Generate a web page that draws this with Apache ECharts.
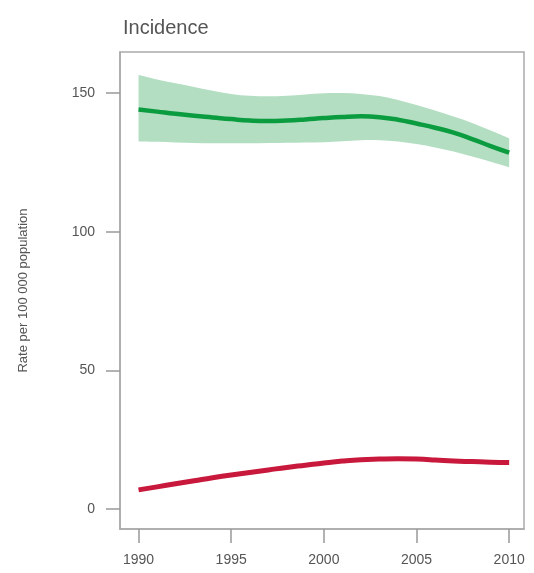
<!DOCTYPE html>
<html><head><meta charset="utf-8">
<script src="https://cdn.jsdelivr.net/npm/echarts@6/dist/echarts.min.js"></script>
<style>html,body{margin:0;padding:0;background:#fff}#c{width:534px;height:573px}</style>
</head><body><div id="c"></div>
<script>
const years = [1990,1991,1992,1993,1994,1995,1996,1997,1998,1999,2000,2001,2002,2003,2004,2005,2006,2007,2008,2009,2010];
const greenMid = [144.1,143.3,142.5,141.8,141.2,140.6,140.1,139.9,140.1,140.5,141.0,141.4,141.6,141.3,140.4,139.0,137.5,135.7,133.4,130.9,128.5];
const greenLow = [132.5,132.4,132.2,132.0,131.9,131.9,131.9,132.0,132.1,132.2,132.3,132.6,133.0,133.0,132.5,131.6,130.4,128.9,127.1,125.2,123.2];
const greenHigh = [156.5,154.9,153.5,152.2,150.8,149.7,149.0,148.8,149.0,149.5,149.9,150.0,149.7,148.9,147.5,145.7,143.7,141.5,139.2,136.5,133.7];
const redMid = [6.9,8.0,9.1,10.2,11.3,12.3,13.2,14.1,15.0,15.8,16.6,17.3,17.8,18.0,18.1,18.0,17.7,17.3,17.1,16.9,16.8];
const xTicks = [1990,1995,2000,2005,2010];
const yTicks = [0,50,100,150];

const pair = a => years.map((y,i)=>[y,a[i]]);
const bandData = years.map((y,i)=>[y, greenLow[i], greenHigh[i]]);
const font = 'Liberation Sans, Arial, sans-serif';

// smooth path segment through points (Catmull-Rom -> cubic Bezier)
function curve(pts, first) {
  let d = first ? `M${pts[0][0]},${pts[0][1]}` : `L${pts[0][0]},${pts[0][1]}`;
  for (let i = 0; i < pts.length - 1; i++) {
    const p0 = pts[Math.max(i-1,0)], p1 = pts[i], p2 = pts[i+1], p3 = pts[Math.min(i+2,pts.length-1)];
    const c1 = [p1[0] + (p2[0]-p0[0])/6, p1[1] + (p2[1]-p0[1])/6];
    const c2 = [p2[0] - (p3[0]-p1[0])/6, p2[1] - (p3[1]-p1[1])/6];
    d += `C${c1[0]},${c1[1]} ${c2[0]},${c2[1]} ${p2[0]},${p2[1]}`;
  }
  return d;
}

const chart = echarts.init(document.getElementById('c'));
chart.setOption({
  animation:false,
  title:{text:'Incidence', left:118, top:13, textStyle:{fontFamily:font, fontSize:20, fontWeight:'normal', color:'#555'}},
  grid:{left:120, top:52, right:10, bottom:44, show:true, borderColor:'#aaa', borderWidth:1.5},
  xAxis:{type:'value', min:1989, max:2010.8,
    axisLine:{show:true, onZero:false, lineStyle:{color:'#aaa', width:1.5}},
    axisTick:{show:true, length:14, customValues:xTicks, lineStyle:{color:'#999', width:1.5}},
    axisLabel:{customValues:xTicks, formatter:v=>String(v), margin:24, color:'#555', fontSize:14, fontFamily:font},
    splitLine:{show:false}},
  yAxis:{type:'value', min:-7.2, max:164.8,
    name:'Rate per 100 000 population', nameLocation:'middle', nameGap:90, nameRotate:90,
    nameTextStyle:{color:'#555', fontSize:13, fontFamily:font},
    axisLine:{show:true, onZero:false, lineStyle:{color:'#aaa', width:1.5}},
    axisTick:{show:true, length:14, customValues:yTicks, lineStyle:{color:'#999', width:1.5}},
    axisLabel:{customValues:yTicks, formatter:v=>String(v), margin:25, color:'#555', fontSize:14, fontFamily:font},
    splitLine:{show:false}},
  series:[
    {type:'custom', data:bandData, encode:{x:0, y:[1,2]}, silent:true, z:1,
      renderItem:(params, api) => {
        if (params.dataIndex !== 0) return null;
        const hi = bandData.map(r => api.coord([r[0], r[2]]));
        const lo = bandData.map(r => api.coord([r[0], r[1]])).reverse();
        const d = curve(hi, true) + curve(lo, false) + 'Z';
        return {type:'path', shape:{pathData:d}, style:{fill:'#b3dec2', stroke:null}};
      }},
    {type:'line', data:pair(greenMid), smooth:true, symbol:'none', lineStyle:{color:'#0b9c40', width:4.5}, z:3},
    {type:'line', data:pair(redMid), smooth:true, symbol:'none', lineStyle:{color:'#c8183c', width:5}, z:3}
  ]
});
</script></body></html>
